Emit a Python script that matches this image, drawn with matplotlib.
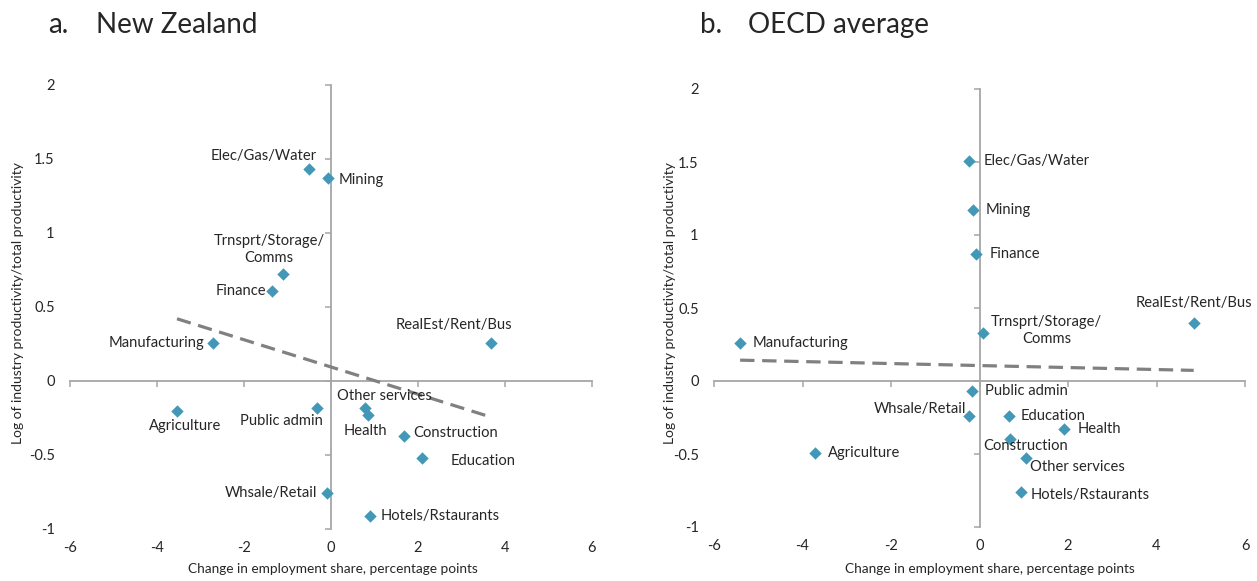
import numpy as np
import matplotlib
matplotlib.use("Agg")
import matplotlib.pyplot as plt

plt.rcParams['font.family'] = ['Lato', 'DejaVu Sans']

# ---- data -------------------------------------------------------------
nz_industries = ["Elec/Gas/Water", "Mining", "Trnsprt/Storage/\nComms", "Finance",
                 "Manufacturing", "RealEst/Rent/Bus", "Agriculture", "Public admin",
                 "Other services", "Health", "Construction", "Education",
                 "Whsale/Retail", "Hotels/Rstaurants"]
nz_emp_change = [-0.51, -0.07, -1.10, -1.36, -2.71, 3.68, -3.54, -0.32,
                 0.78, 0.85, 1.68, 2.09, -0.09, 0.90]
nz_log_prod = [1.43, 1.37, 0.72, 0.61, 0.26, 0.26, -0.20, -0.18,
               -0.18, -0.23, -0.37, -0.52, -0.76, -0.91]

oecd_industries = ["Elec/Gas/Water", "Mining", "Finance", "Trnsprt/Storage/\nComms",
                   "RealEst/Rent/Bus", "Manufacturing", "Public admin", "Whsale/Retail",
                   "Education", "Health", "Construction", "Other services",
                   "Hotels/Rstaurants", "Agriculture"]
oecd_emp_change = [-0.23, -0.14, -0.07, 0.07, 4.84, -5.41, -0.16, -0.23,
                   0.66, 1.92, 0.70, 1.06, 0.93, -3.71]
oecd_log_prod = [1.51, 1.17, 0.87, 0.33, 0.40, 0.26, -0.07, -0.24,
                 -0.24, -0.33, -0.40, -0.53, -0.76, -0.49]

x_ticks = [-6, -4, -2, 0, 2, 4, 6]
y_ticks = [-1, -0.5, 0, 0.5, 1, 1.5, 2]
y_tick_labels = ["-1", "-0.5", "0", "0.5", "1", "1.5", "2"]

# label placement: (dx, dy) in pixels, horizontal alignment
nz_label_pos = [(8, 13, 'right'), (11, -2, 'left'), (-14, 25, 'center'), (-6, 0, 'right'),
                (-9, 0, 'right'), (-37, 18, 'center'), (8, -15, 'center'), (6, -13, 'right'),
                (-28, 12, 'left'), (-3, -16, 'center'), (9, 3, 'left'), (29, -3, 'left'),
                (-10, 0, 'right'), (10, 0, 'left')]
oecd_label_pos = [(14, 0, 'left'), (12, 0, 'left'), (13, 0, 'left'), (64, 2, 'center'),
                  (0, 20, 'center'), (13, 0, 'left'), (13, 0, 'left'), (-3, 7, 'right'),
                  (12, 0, 'left'), (13, 0, 'left'), (15, -7, 'center'), (4, -9, 'left'),
                  (10, -3, 'left'), (13, 0, 'left')]

MARKER = '#4398B7'
AXIS = '#A6A6A6'
TREND = '#808080'
TXT = '#262626'
PX = 0.72  # points per pixel at dpi=100

fig = plt.figure(figsize=(12.57, 5.81), dpi=100)


def panel(rect, xs, ys, names, label_pos, title_left, title_x_letter, title_x_name, title, ylab_x, xlab_x):
    # axes carrying the crossing zero axes with tick marks
    ax = fig.add_axes(rect)
    ax.set_xlim(-6, 6)
    ax.set_ylim(-1, 2)
    for s in ('top', 'right'):
        ax.spines[s].set_visible(False)
    ax.spines['left'].set_position(('data', 0))
    ax.spines['bottom'].set_position(('data', 0))
    for s in ('left', 'bottom'):
        ax.spines[s].set_color(AXIS)
        ax.spines[s].set_linewidth(1.3)
    ax.set_xticks(x_ticks)
    ax.set_yticks(y_ticks)
    ax.tick_params(direction='out', length=4, width=1.1, color=AXIS,
                   labelleft=False, labelbottom=False)

    # overlay axes holding the tick labels along the outer edges
    lab = fig.add_axes(rect, frameon=False)
    lab.set_xlim(-6, 6)
    lab.set_ylim(-1, 2)
    lab.set_xticks(x_ticks)
    lab.set_xticklabels([str(t) for t in x_ticks])
    lab.set_yticks(y_ticks)
    lab.set_yticklabels(y_tick_labels)
    lab.tick_params(length=0, labelsize=10.5, labelcolor=TXT)
    lab.tick_params(axis='y', pad=11)
    lab.tick_params(axis='x', pad=9)
    lab.patch.set_visible(False)

    # linear trend across the data range
    xs_a = np.array(xs)
    ys_a = np.array(ys)
    slope, intercept = np.polyfit(xs_a, ys_a, 1)
    xr = np.array([xs_a.min(), xs_a.max()])
    lab.plot(xr, slope * xr + intercept, color=TREND, lw=2.3,
             dashes=(4.5, 2.4), solid_capstyle='butt', dash_capstyle='butt', zorder=2)

    lab.scatter(xs, ys, marker='D', s=40, color=MARKER, linewidths=0, zorder=3)

    for x, y, name, (dx, dy, ha) in zip(xs, ys, names, label_pos):
        lab.annotate(name, (x, y), xytext=(dx * PX, dy * PX), textcoords='offset points',
                     ha=ha, va='center', fontsize=10.6, color=TXT, linespacing=1.25,
                     multialignment='center')

    fig.text(title_x_letter / 1257, 1 - 25 / 581, title_left, fontsize=20, color=TXT,
             va='center', ha='left')
    fig.text(title_x_name / 1257, 1 - 25 / 581, title, fontsize=20, color=TXT,
             va='center', ha='left')
    fig.text(ylab_x / 1257, 1 - 303 / 581, "Log of industry productivity/total productivity",
             rotation=90, ha='center', va='center', fontsize=10, color=TXT)
    fig.text(xlab_x / 1257, 1 - 569 / 581, "Change in employment share, percentage points",
             ha='center', va='center', fontsize=9.8, color=TXT)


def rect_from_px(x0, x1, ytop, ybot):
    return [x0 / 1257, 1 - ybot / 581, (x1 - x0) / 1257, (ybot - ytop) / 581]


panel(rect_from_px(70, 592, 85, 529), nz_emp_change, nz_log_prod, nz_industries,
      nz_label_pos, "a.", 48, 96, "New Zealand", 18, 333)
panel(rect_from_px(714, 1245, 89, 527), oecd_emp_change, oecd_log_prod, oecd_industries,
      oecd_label_pos, "b.", 700, 748, "OECD average", 670, 990)

fig.savefig("out.png", dpi=100)
